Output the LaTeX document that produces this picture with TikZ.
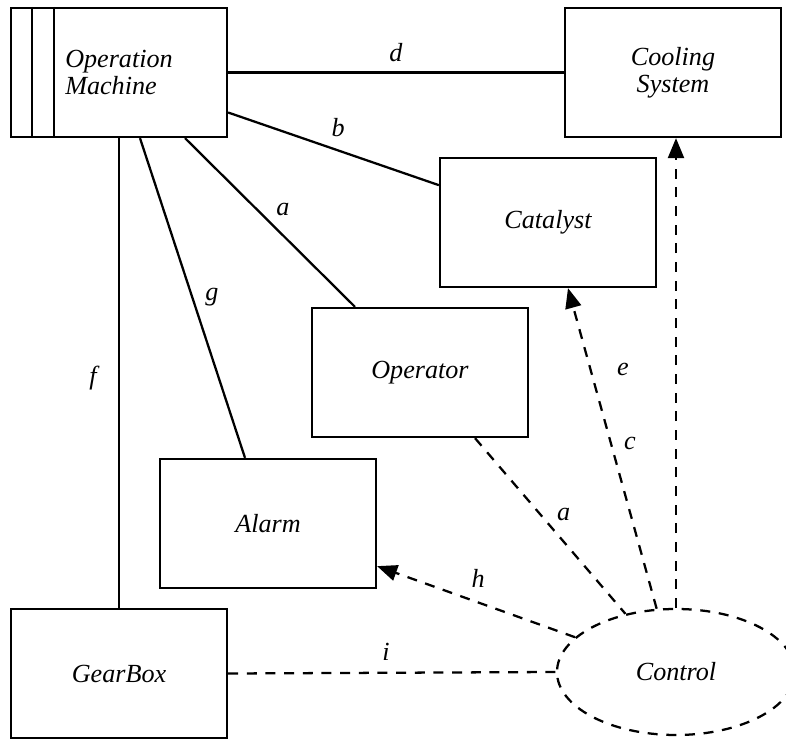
\documentclass[tikz,border=0pt]{standalone}
\usepackage{fontspec}
\setmainfont{Liberation Serif}
\usetikzlibrary{shapes.geometric, arrows.meta}

\begin{document}
\begin{tikzpicture}[x=0.75pt, y=-0.75pt,
    box/.style={draw, line width=1.7pt, minimum width=162pt, minimum height=96.75pt, inner sep=0pt, align=center, font=\fontsize{19.6}{20.5}\selectfont\itshape},
    link/.style={line width=1.7pt},
    dlink/.style={line width=1.7pt, dash pattern=on 7.5pt off 6.5pt},
    tip/.style={-{Triangle[length=15pt, width=12pt]}},
    lbl/.style={font=\fontsize{19.6}{20.5}\selectfont\itshape, inner sep=0pt}]
    \clip (0,0) rectangle (786,741);
    \fill[white] (0,0) rectangle (786,741);
    \node[box, align=left] (om) at (119,72.5) {Operation\\Machine};
    \draw[link] ([xshift=16.5pt]om.north west) -- ([xshift=16.5pt]om.south west);
    \draw[link] ([xshift=33pt]om.north west) -- ([xshift=33pt]om.south west);
    \node[box] (cool) at (673,72.5) {Cooling\\System};
    \node[box] (cat) at (548,222.5) {Catalyst};
    \node[box] (op) at (420,372.5) {Operator};
    \node[box] (al) at (268,523.5) {Alarm};
    \node[box] (gear) at (119,673.5) {GearBox};
    \node[ellipse, draw, dlink, minimum width=178.5pt, minimum height=94.5pt, inner sep=0pt, font=\fontsize{19.6}{20.5}\selectfont\itshape] (ctrl) at (676,672) {Control};
    \draw[link] (om.east) -- node[lbl, pos=.5, yshift=15pt] (ld) {d} (cool.west);
    \draw[link] ([yshift=-30pt]om.east) -- node[lbl, pos=.5, xshift=3.4pt, yshift=16.1pt] (lb) {b} ([yshift=28pt]cat.west);
    \draw[link] ([xshift=49.5pt]om.south) -- node[lbl, pos=.5, xshift=9.75pt, yshift=9.4pt] (la) {a} ([xshift=-48.75pt]op.north);
    \draw[link] ([xshift=15.75pt]om.south) -- node[lbl, pos=.5, xshift=14.6pt, yshift=0.75pt] (lg) {g} ([xshift=-17.25pt]al.north);
    \draw[link] (om.south) -- node[lbl, pos=.5, xshift=-19.5pt, yshift=-3.75pt] (lf) {f} (gear.north);
    \draw[dlink, tip] (ctrl.north) -- node[lbl, pos=.5, xshift=-39.75pt, yshift=3pt] (le) {e} (ctrl.north |- cool.south);
    \draw[dlink, tip] (ctrl.107) -- node[lbl, pos=.5, xshift=13.1pt, yshift=3.4pt] (lc) {c} ([xshift=15pt]cat.south);
    \draw[dlink] ([xshift=41.25pt]op.south) -- node[lbl, pos=.5, xshift=10.1pt, yshift=8.6pt] (la2) {a} (ctrl.131);
    \draw[dlink, tip] (ctrl.161) -- node[lbl, pos=.5, xshift=1.5pt, yshift=17.6pt] (lh) {h} ([yshift=-32pt]al.east);
    \draw[dlink] (gear.east) -- node[lbl, pos=.5, xshift=-4.5pt, yshift=15.75pt] (li) {i} (ctrl.west);
\end{tikzpicture}
\end{document}
